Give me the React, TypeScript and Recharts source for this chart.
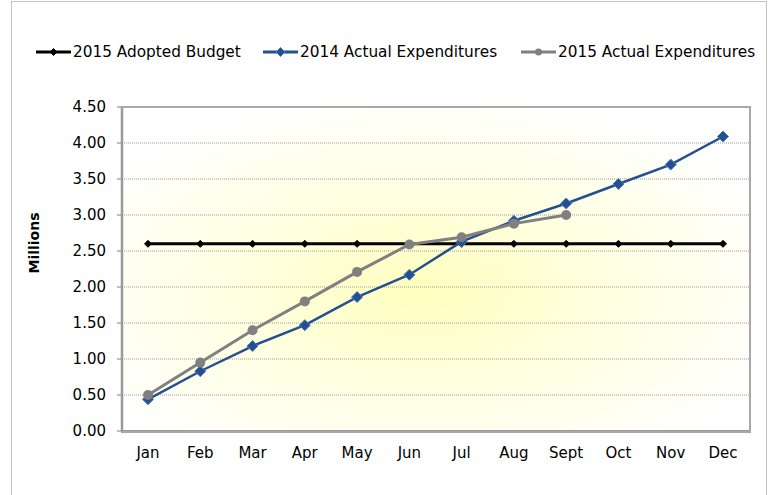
import React from "react";
import { LineChart, Line, XAxis, YAxis, CartesianGrid } from "recharts";

const months = ["Jan", "Feb", "Mar", "Apr", "May", "Jun", "Jul", "Aug", "Sept", "Oct", "Nov", "Dec"];
const budget2015 = [2.6, 2.6, 2.6, 2.6, 2.6, 2.6, 2.6, 2.6, 2.6, 2.6, 2.6, 2.6];
const actual2014 = [0.44, 0.83, 1.18, 1.47, 1.86, 2.17, 2.63, 2.92, 3.16, 3.43, 3.7, 4.09];
const actual2015 = [0.5, 0.95, 1.4, 1.8, 2.21, 2.59, 2.69, 2.88, 3.0];
const yTicks = [0, 0.5, 1, 1.5, 2, 2.5, 3, 3.5, 4, 4.5];

const data = months.map((m, i) => ({
  month: m,
  budget: budget2015[i],
  a2014: actual2014[i],
  a2015: i < actual2015.length ? actual2015[i] : null,
}));

const FONT = "'DejaVu Sans', Verdana, sans-serif";

function Diamond(props: any) {
  const { cx, cy, r, fill, stroke } = props;
  if (cx == null || cy == null) return null;
  return (
    <path
      d={`M${cx},${cy - r} L${cx + r},${cy} L${cx},${cy + r} L${cx - r},${cy} Z`}
      fill={fill}
      stroke={stroke}
      strokeWidth={1}
    />
  );
}

const legendItems = [
  { label: "2015 Adopted Budget", color: "#000000", x: 36, marker: "diamondSmall" },
  { label: "2014 Actual Expenditures", color: "#24508f", x: 263, marker: "diamond" },
  { label: "2015 Actual Expenditures", color: "#808080", x: 521, marker: "circle" },
];

function LegendIcon({ color, marker }: { color: string; marker: string }) {
  return (
    <svg width={35} height={14} style={{ display: "block" }}>
      <line x1={0} y1={7} x2={35} y2={7} stroke={color} strokeWidth={3} />
      {marker === "circle" && <circle cx={17.5} cy={7} r={3.5} fill={color} />}
      {marker === "diamond" && <Diamond cx={17.5} cy={7} r={4.5} fill={color} stroke="#4a7cc0" />}
      {marker === "diamondSmall" && <Diamond cx={17.5} cy={7} r={3.5} fill={color} stroke={color} />}
    </svg>
  );
}

export default function App() {
  return (
    <div style={{ position: "absolute", left: 0, top: 0, width: 777, height: 495, background: "#fff", overflow: "hidden" }}>
      <div style={{ position: "absolute", left: 11, top: 1, width: 754, height: 520, border: "1px solid #c0c0c0" }} />
      {legendItems.map((it) => (
        <div
          key={it.label}
          style={{
            position: "absolute",
            left: it.x,
            top: 43,
            display: "flex",
            alignItems: "center",
            fontFamily: FONT,
            fontSize: 15.3,
            color: "#000",
            whiteSpace: "nowrap",
          }}
        >
          <LegendIcon color={it.color} marker={it.marker} />
          <span style={{ marginLeft: 2 }}>{it.label}</span>
        </div>
      ))}
      <div
        style={{
          position: "absolute",
          left: 34,
          top: 243,
          transform: "translate(-50%, -50%) rotate(-90deg)",
          fontFamily: FONT,
          fontSize: 14,
          fontWeight: "bold",
          whiteSpace: "nowrap",
        }}
      >
        Millions
      </div>
      <LineChart
        width={777}
        height={495}
        data={data}
        margin={{ top: 107, right: 28, bottom: 0, left: 0 }}
        style={{ position: "absolute", left: 0, top: 0 }}
      >
        <defs>
          <radialGradient id="plotBg" cx="48%" cy="57%" r="62%">
            <stop offset="0%" stopColor="#ffffbe" />
            <stop offset="50%" stopColor="#ffffe2" />
            <stop offset="100%" stopColor="#ffffff" />
          </radialGradient>
        </defs>
        <CartesianGrid
          vertical={false}
          stroke="#9a9a9a"
          strokeDasharray="1 1"
          fill="url(#plotBg)"
          fillOpacity={1}
        />
        <XAxis
          dataKey="month"
          padding={{ left: 26, right: 26 }}
          tickLine={false}
          tickSize={0}
          tickMargin={16}
          axisLine={{ stroke: "#9a9a9a", strokeWidth: 2 }}
          tick={{ fill: "#000", fontSize: 15, fontFamily: FONT }}
          interval={0}
          height={64}
        />
        <YAxis
          width={122}
          domain={[0, 4.5]}
          ticks={yTicks}
          interval={0}
          tickFormatter={(v: number) => v.toFixed(2)}
          tickSize={5}
          tickMargin={11}
          tickLine={{ stroke: "#808080" }}
          axisLine={{ stroke: "#9a9a9a", strokeWidth: 2.5 }}
          tick={{ fill: "#000", fontSize: 15, fontFamily: FONT }}
        />
        <Line
          dataKey="budget"
          stroke="#000"
          strokeWidth={3}
          dot={<Diamond r={3.5} fill="#000" stroke="#000" />}
          isAnimationActive={false}
        />
        <Line
          dataKey="a2014"
          stroke="#24508f"
          strokeWidth={2.5}
          dot={<Diamond r={5.5} fill="#24508f" stroke="#4a7cc0" />}
          isAnimationActive={false}
        />
        <Line
          dataKey="a2015"
          stroke="#808080"
          strokeWidth={3}
          dot={{ r: 5, fill: "#808080", stroke: "#808080", strokeWidth: 0 }}
          connectNulls={false}
          isAnimationActive={false}
        />
      </LineChart>
      <div
        style={{
          position: "absolute",
          left: 121,
          top: 106,
          width: 626,
          height: 323,
          border: "2px solid #a8a8a8",
          borderLeftColor: "#999",
          pointerEvents: "none",
        }}
      />
    </div>
  );
}
